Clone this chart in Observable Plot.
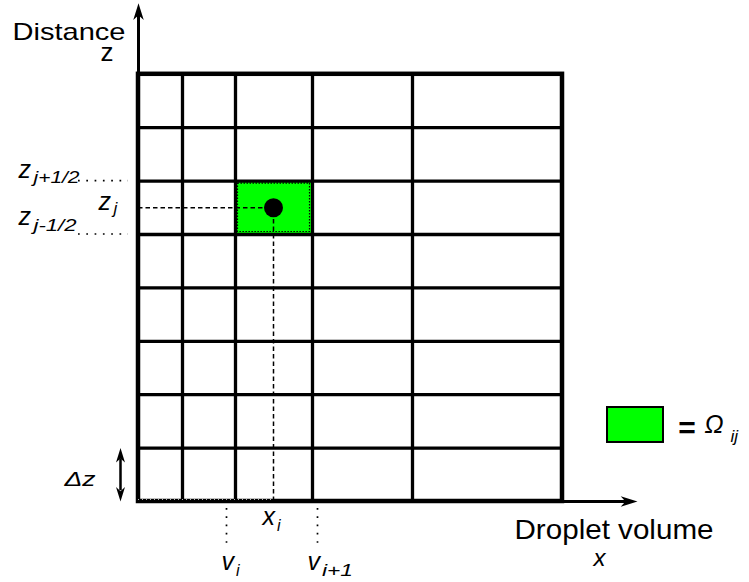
<!DOCTYPE html>
<html>
<head>
<meta charset="utf-8">
<script src="https://cdn.jsdelivr.net/npm/d3@7"></script>
<script src="https://cdn.jsdelivr.net/npm/@observablehq/plot@0.6"></script>
<style>
  body { margin: 0; background: #fff; }
  svg { display: block; }
</style>
</head>
<body>
<div id="chart"></div>
<script>
// Finite-volume grid: droplet-volume classes (x) against distance layers (z)
const volumeEdges = [0, 0.44, 0.97, 1.74, 2.74, 4.24];      // class boundaries along x
const distanceEdges = [0, 1, 2, 3, 4, 5, 6, 7, 8];          // layer boundaries along z
const cellI = 2;                                            // volume class i
const cellJ = 5;                                            // distance layer j
const pivotVolume = 1.35;                                   // x_i, pivot volume inside class i
const classTicks = [0.88, 1.79];                            // v_i, v_{i+1}
const classTickBase = ["v", "v"];
const classTickSub = ["i", "i+1"];
const layerLabelBase = ["z", "z"];
const layerLabelSub = ["j+1/2", "j-1/2"];

const xMax = volumeEdges[volumeEdges.length - 1];
const zMax = distanceEdges[distanceEdges.length - 1];
const z0 = distanceEdges[0];
const zj = (distanceEdges[cellJ] + distanceEdges[cellJ + 1]) / 2;
const cell = [{
  x1: volumeEdges[cellI], x2: volumeEdges[cellI + 1],
  y1: distanceEdges[cellJ], y2: distanceEdges[cellJ + 1]
}];
const layerBounds = [distanceEdges[cellJ + 1], distanceEdges[cellJ]];

// filled "stealth" arrowhead, tip at the origin, pointing up
function stealth(widthRatio) {
  return {
    draw(context, size) {
      const r = Math.sqrt(size / Math.PI);
      const L = 1.6 * r, w = widthRatio * r, notch = 0.45 * r;
      context.moveTo(0, 0);
      context.lineTo(w, L);
      context.lineTo(0, L - notch);
      context.lineTo(-w, L);
      context.closePath();
    }
  };
}

const font = "Liberation Sans, Arial, Helvetica, sans-serif";
const axisTipX = 4.99;   // end of the x arrow
const axisTipZ = 9.33;   // end of the z arrow
const leftGap = 0.1, leaderLen = 0.5;
const deltaX = -0.18;
const legend = {x1: 4.69, x2: 5.25, y1: 1.105, y2: 1.76};

// one label = base glyph + subscript, placed relative to an anchor point
function label(x, y, base, sub, o) {
  const common = {textAnchor: "start", lineAnchor: "bottom", fill: "black", fontStyle: "italic"};
  return [
    Plot.text([base], {...common, x: () => x, y: () => y, text: (d) => d,
      dx: o.bx, dy: o.by, fontSize: o.bs ?? 25}),
    Plot.text([sub], {...common, x: () => x, y: () => y, text: (d) => d,
      dx: o.sx, dy: o.sy, fontSize: o.ss ?? 17})
  ];
}

const chart = Plot.plot({
  width: 749,
  height: 582,
  margin: 0,
  x: {domain: [-1.38, 6.11], axis: null},
  y: {domain: [-1.517, 9.382], axis: null},
  style: {fontFamily: font, background: "white", overflow: "visible"},
  marks: [
    // highlighted control volume Ω_ij
    Plot.rect(cell, {x1: "x1", x2: "x2", y1: "y1", y2: "y2", fill: "#00ff00"}),
    Plot.rect(cell, {x1: "x1", x2: "x2", y1: "y1", y2: "y2", fill: "none", stroke: "black",
      strokeWidth: 1.2, strokeDasharray: "1.5,1.5", inset: 2.5}),

    // interior grid lines
    Plot.ruleX(volumeEdges.slice(1, -1), {y1: z0, y2: zMax, strokeWidth: 3.3, stroke: "black"}),
    Plot.ruleY(distanceEdges.slice(1, -1), {x1: volumeEdges[0], x2: xMax, strokeWidth: 3.3, stroke: "black"}),

    // axes with arrowheads
    Plot.ruleX([volumeEdges[0]], {y1: zMax, y2: axisTipZ - 0.2, strokeWidth: 3, stroke: "black"}),
    Plot.ruleY([z0], {x1: xMax, x2: axisTipX - 0.1, strokeWidth: 3, stroke: "black"}),
    Plot.dot([[volumeEdges[0], axisTipZ]], {symbol: stealth(0.5), r: 10.5, fill: "black", stroke: "none"}),
    Plot.dot([[axisTipX, z0]], {symbol: stealth(0.5), r: 10.5, fill: "black", stroke: "none", rotate: 90}),

    // outer frame
    Plot.rect([0], {x1: volumeEdges[0], x2: xMax, y1: z0, y2: zMax,
      fill: "none", stroke: "black", strokeWidth: 4.5}),
    Plot.ruleY([z0], {x1: volumeEdges[0], x2: pivotVolume, stroke: "#bbb",
      strokeWidth: 1, strokeDasharray: "1,3", dy: -2}),

    // projections of the pivot (x_i, z_j)
    Plot.ruleY([zj], {x1: volumeEdges[0], x2: pivotVolume, stroke: "black", strokeWidth: 1.5, strokeDasharray: "4.5,3"}),
    Plot.ruleX([pivotVolume], {y1: z0, y2: zj, stroke: "black", strokeWidth: 1.5, strokeDasharray: "4.5,3"}),
    Plot.dot([[pivotVolume, zj]], {r: 9.5, fill: "black", stroke: "none"}),

    // layer boundary labels with dotted leaders
    Plot.ruleY(layerBounds, {x1: volumeEdges[0] - leftGap - leaderLen, x2: volumeEdges[0] - leftGap,
      stroke: "black", strokeWidth: 1.7, strokeDasharray: "1.7,6.6", dy: -0.5}),
    ...label(volumeEdges[0], layerBounds[0], layerLabelBase[0], layerLabelSub[0],
      {bx: -120, by: -3, sx: -105, sy: 2}),
    ...label(volumeEdges[0], layerBounds[1], layerLabelBase[1], layerLabelSub[1],
      {bx: -120, by: -9.5, sx: -105, sy: -3}),
    ...label(volumeEdges[0], zj, "z", "j", {bx: -40, by: 2, sx: -25, sy: 6}),

    // volume class ticks and pivot label
    Plot.ruleX(classTicks, {y1: -0.13, y2: -0.84, stroke: "black", strokeWidth: 1.7, strokeDasharray: "1.7,6.6"}),
    ...label(classTicks[0], z0, classTickBase[0], classTickSub[0], {bx: -5, by: 69, sx: 9.5, sy: 74.5, ss: 16}),
    ...label(classTicks[1], z0, classTickBase[1], classTickSub[1], {bx: -10, by: 69, sx: 4.5, sy: 75, ss: 16}),
    ...label(pivotVolume, z0, "x", "i", {bx: -11, by: 23.5, sx: 3.5, sy: 29.5, ss: 16}),

    // Δz: height of one layer
    Plot.ruleX([deltaX], {y1: z0 + 0.2, y2: distanceEdges[1] - 0.2, stroke: "black", strokeWidth: 2.5}),
    Plot.dot([[deltaX, distanceEdges[1]]], {symbol: stealth(0.5), r: 9, fill: "black", stroke: "none"}),
    Plot.dot([[deltaX, z0]], {symbol: stealth(0.5), r: 9, fill: "black", stroke: "none", rotate: 180}),
    Plot.text(["Δz"], {x: deltaX, y: (z0 + distanceEdges[1]) / 2, text: (d) => d,
      textAnchor: "start", lineAnchor: "bottom", dx: -56, dy: 11, fontSize: 21, fontStyle: "italic", fill: "black"}),

    // axis titles
    Plot.text(["Distance"], {x: volumeEdges[0], y: axisTipZ, text: (d) => d, textAnchor: "start",
      lineAnchor: "bottom", dx: -126, dy: 36.5, fontSize: 24, fill: "black"}),
    Plot.text(["z"], {x: volumeEdges[0], y: axisTipZ, text: (d) => d, textAnchor: "start",
      lineAnchor: "bottom", dx: -38, dy: 57.5, fontSize: 26, fill: "black"}),
    Plot.text(["Droplet volume"], {x: axisTipX, y: z0, text: (d) => d, textAnchor: "start",
      lineAnchor: "bottom", dx: -123, dy: 37.5, fontSize: 28, fill: "black"}),
    Plot.text(["x"], {x: axisTipX, y: z0, text: (d) => d, textAnchor: "start",
      lineAnchor: "bottom", dx: -44, dy: 65, fontSize: 24, fontStyle: "italic", fill: "black"}),

    // key: green cell = Ω_ij
    Plot.rect([legend], {x1: "x1", x2: "x2", y1: "y1", y2: "y2", fill: "#00ff00", stroke: "black", strokeWidth: 2}),
    Plot.text(["="], {x: legend.x2, y: (legend.y1 + legend.y2) / 2, text: (d) => d, textAnchor: "middle",
      lineAnchor: "middle", dx: 23.5, dy: 3, fontSize: 30, fontWeight: "bold", fill: "black"}),
    ...label(legend.x2, legend.y1, "Ω", "ij", {bx: 41, by: -9, sx: 67, sy: 0, bs: 25, ss: 17})
  ]
});

document.getElementById("chart").appendChild(chart);

// widen the lettering of the longer labels to their drawn extents
const spans = {"Distance": 113, "Droplet volume": 199, "j+1/2": 46, "j-1/2": 43, "i+1": 31, "Δz": 31};
d3.select(chart).selectAll("text").each(function () {
  const w = spans[this.textContent];
  if (w) {
    this.setAttribute("textLength", w);
    this.setAttribute("lengthAdjust", "spacingAndGlyphs");
  }
});
</script>
</body>
</html>
